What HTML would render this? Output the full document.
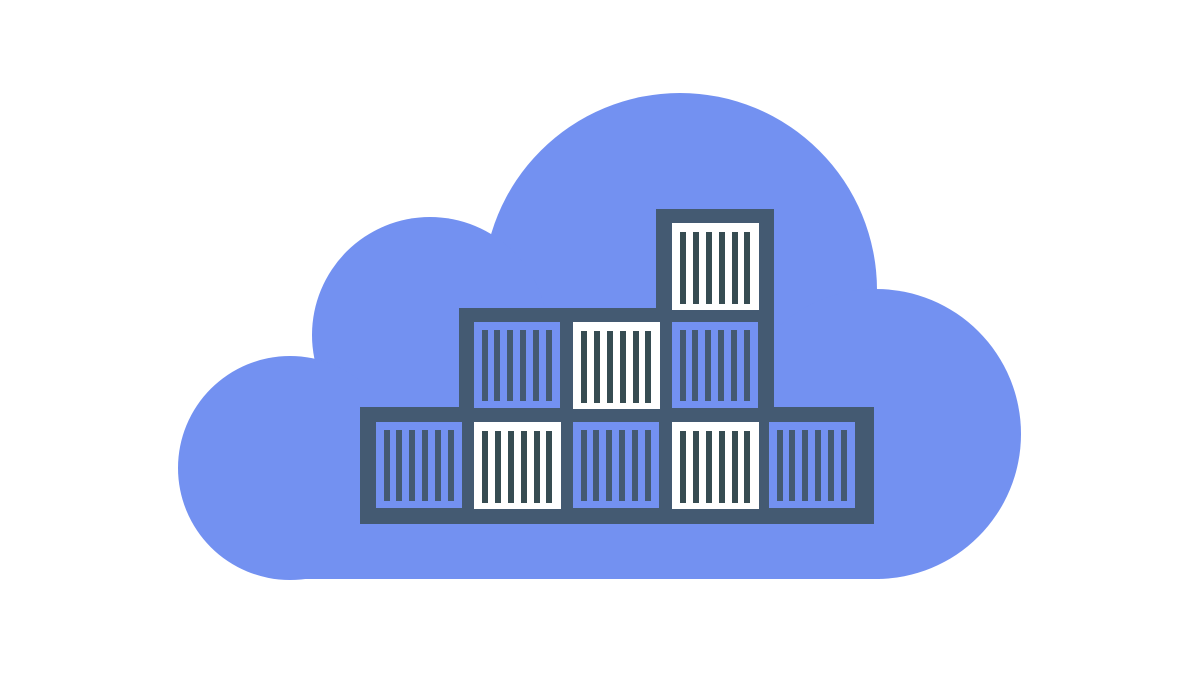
<!DOCTYPE html>
<html><head><meta charset="utf-8"><style>html,body{margin:0;padding:0;background:#fff;}svg{display:block}</style></head>
<body>
<svg width="1200" height="674" viewBox="0 0 1200 674" xmlns="http://www.w3.org/2000/svg">
<defs>
<g id="bw"><rect x="0" y="0" width="87" height="87" fill="#fff"/>
<g fill="#364c52"><rect x="8" y="9" width="6" height="72"/><rect x="21" y="9" width="6" height="72"/><rect x="34" y="9" width="6" height="72"/><rect x="47" y="9" width="6" height="72"/><rect x="60" y="9" width="6" height="72"/><rect x="72" y="9" width="6" height="72"/></g></g>
<g id="bb"><rect x="0" y="0" width="86" height="86" fill="#7391f1"/>
<g fill="#445a72"><rect x="8" y="8" width="6" height="71"/><rect x="20" y="8" width="6" height="71"/><rect x="33" y="8" width="6" height="71"/><rect x="46" y="8" width="6" height="71"/><rect x="59" y="8" width="6" height="71"/><rect x="72" y="8" width="6" height="71"/></g></g>
</defs>
<g fill="#7391f1">
<circle cx="680" cy="290" r="197"/>
<circle cx="876" cy="434" r="145"/>
<circle cx="430" cy="335" r="118"/>
<circle cx="290" cy="468" r="112"/>
<rect x="290" y="380" width="590" height="199"/>
</g>
<g fill="#445a72">
<rect x="360" y="407" width="514" height="117"/>
<rect x="459" y="308" width="315" height="110"/>
<rect x="656" y="209" width="118" height="110"/>
</g>
<use href="#bw" x="672" y="223"/>
<use href="#bb" x="474" y="322"/>
<use href="#bw" x="573" y="322"/>
<use href="#bb" x="672" y="322"/>
<use href="#bb" x="376" y="422"/>
<use href="#bw" x="474" y="422"/>
<use href="#bb" x="573" y="422"/>
<use href="#bw" x="672" y="422"/>
<use href="#bb" x="769" y="422"/>
</svg>
</body></html>
